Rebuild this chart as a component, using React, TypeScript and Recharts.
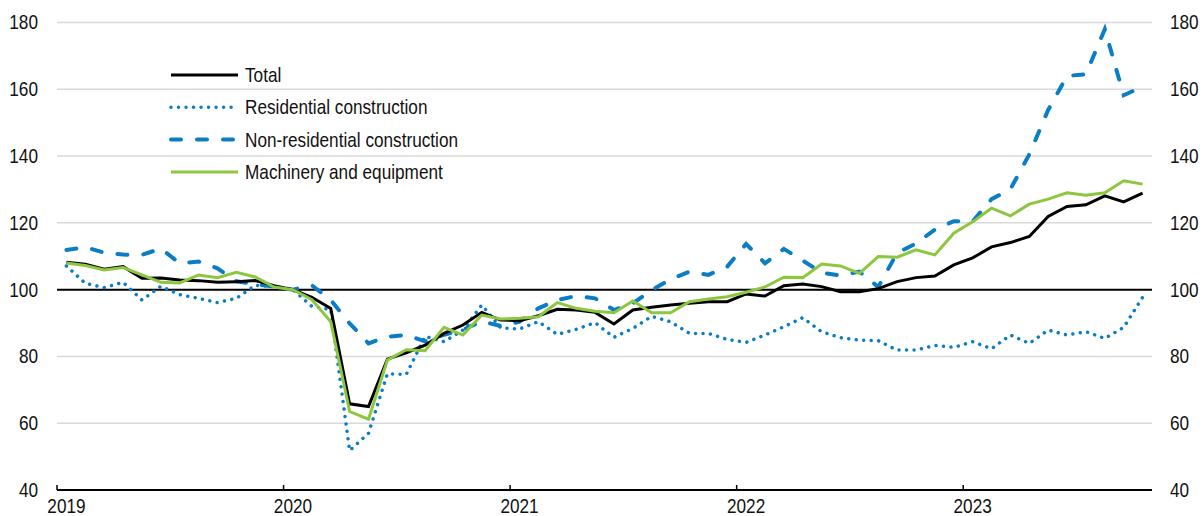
import { LineChart, Line, XAxis, YAxis, CartesianGrid, ReferenceLine, Legend } from "recharts";

// monthly index, Jan 2019 - Oct 2023
const years = ["2019", "2020", "2021", "2022", "2023"];
const yTicks = [40, 60, 80, 100, 120, 140, 160, 180];

const total = [
  108.2, 107.6, 106.1, 106.9, 103.4, 103.5, 102.9, 102.7, 102.2, 102.4, 102.7, 101.2,
  100.0, 97.7, 94.4, 65.8, 65.0, 79.2, 81.1, 83.4, 86.9, 89.4, 93.2, 90.9,
  90.7, 92.2, 94.1, 93.9, 93.2, 89.7, 93.9, 94.7, 95.4, 95.9, 96.4, 96.4,
  98.7, 98.1, 101.2, 101.7, 100.9, 99.4, 99.4, 100.3, 102.4, 103.6, 104.1, 107.4,
  109.5, 112.8, 114.1, 115.9, 121.9, 124.9, 125.4, 128.1, 126.3, 128.9,
];

const residential = [
  107.1, 101.9, 100.6, 102.2, 96.9, 101.0, 98.5, 97.4, 96.1, 97.4, 101.3, 100.9,
  100.0, 95.0, 94.0, 51.8, 57.0, 74.8, 74.6, 86.0, 84.4, 87.9, 95.4, 88.6,
  88.2, 90.4, 86.6, 88.1, 90.1, 85.7, 88.4, 92.0, 90.4, 86.9, 86.9, 85.1,
  84.2, 86.4, 88.9, 91.6, 87.4, 85.6, 84.9, 84.7, 81.9, 81.9, 83.3, 82.7,
  84.4, 82.3, 86.4, 83.9, 87.9, 86.4, 87.4, 85.4, 88.7, 97.7,
];

const nonResidential = [
  111.9, 112.7, 111.1, 110.5, 110.4, 112.3, 107.9, 108.4, 106.4, 102.5, 101.6, 100.9,
  100.0, 101.3, 96.9, 89.9, 83.9, 85.9, 86.4, 84.5, 86.5, 88.0, 90.5, 89.1,
  90.4, 94.4, 96.9, 98.1, 97.4, 93.9, 95.9, 99.9, 103.1, 105.4, 104.4, 106.9,
  113.7, 107.9, 112.2, 108.7, 105.1, 104.2, 105.4, 100.8, 111.0, 113.8, 118.0, 120.5,
  120.4, 127.1, 130.1, 140.5, 153.8, 164.0, 164.5, 178.0, 158.2, 160.8,
];

const machinery = [
  108.0, 107.2, 105.9, 106.6, 104.4, 102.2, 102.0, 104.4, 103.6, 105.2, 103.8, 100.8,
  100.0, 97.0, 90.4, 63.5, 61.2, 78.9, 82.0, 81.7, 88.7, 86.4, 92.4, 91.2,
  91.4, 91.9, 96.1, 94.4, 93.5, 93.1, 96.6, 93.1, 93.1, 96.4, 97.2, 97.9,
  99.2, 100.8, 103.7, 103.6, 107.7, 107.1, 104.9, 109.9, 109.7, 111.9, 110.4, 116.9,
  120.3, 124.4, 122.1, 125.6, 127.1, 129.0, 128.3, 129.0, 132.6, 131.6,
];

const BLUE = "#0B7DC4";
const GREEN = "#8DC63F";
const FONT = "'Liberation Sans', Arial, sans-serif";

const series = [
  { key: "total", name: "Total", color: "#000000", width: 3, dash: undefined as string | undefined },
  { key: "residential", name: "Residential construction", color: BLUE, width: 3.5, dash: "0.01 7.5" },
  { key: "nonResidential", name: "Non-residential construction", color: BLUE, width: 4, dash: "10 16" },
  { key: "machinery", name: "Machinery and equipment", color: GREEN, width: 3, dash: undefined },
];

const data = total.map((v, i) => ({
  t: i + 0.5,
  total: v,
  residential: residential[i],
  nonResidential: nonResidential[i],
  machinery: machinery[i],
}));

const W = 1203;
const H = 516;
const LEFT = 57;
const RIGHT = 51;
const N = total.length;
const halfMonth = (W - LEFT - RIGHT) / N / 2;

function YearTick(props: any) {
  const { x, y, payload } = props;
  const label = years[Math.round(payload.value / 12)];
  return (
    <g>
      <line x1={x} x2={x} y1={y - 5} y2={y} stroke="#000" strokeWidth={1.5} />
      <text
        transform={`translate(${x + halfMonth},${y + 23}) scale(0.86,1)`}
        textAnchor="middle"
        fontSize={20}
        fontFamily={FONT}
        fill="#111"
      >
        {label}
      </text>
    </g>
  );
}

function LeftTick(props: any) {
  const { x, y, payload } = props;
  return (
    <text
      transform={`translate(${x},${y}) scale(0.86,1)`}
      textAnchor="end"
      dominantBaseline="central"
      fontSize={20}
      fontFamily={FONT}
      fill="#111"
    >
      {payload.value}
    </text>
  );
}

function RightTick(props: any) {
  const { x, y, payload } = props;
  return (
    <text
      transform={`translate(${x},${y}) scale(0.86,1)`}
      textAnchor="start"
      dominantBaseline="central"
      fontSize={20}
      fontFamily={FONT}
      fill="#111"
    >
      {payload.value}
    </text>
  );
}

function LegendBox() {
  return (
    <svg width={320} height={135}>
      {series.map((s, i) => {
        const cy = 17 + i * 32.3;
        return (
          <g key={s.key}>
            <line
              x1={6}
              x2={73}
              y1={cy}
              y2={cy}
              stroke={s.color}
              strokeWidth={s.width}
              strokeDasharray={s.dash}
              strokeLinecap={s.dash ? "round" : "butt"}
            />
            <text
              transform={`translate(80,${cy}) scale(0.86,1)`}
              dominantBaseline="central"
              fontSize={20}
              fontFamily={FONT}
              fill="#111"
            >
              {s.name}
            </text>
          </g>
        );
      })}
    </svg>
  );
}

export default function App() {
  return (
    <div style={{ position: "absolute", left: 0, top: 0, width: W, height: H, background: "#fff" }}>
      <LineChart width={W} height={H} data={data} margin={{ top: 22.5, right: 0, bottom: 0, left: 0 }}>
        <CartesianGrid vertical={false} stroke="#d9d9d9" strokeWidth={1.5} yAxisId="left" />
        <XAxis
          dataKey="t"
          type="number"
          domain={[0, N]}
          ticks={years.map((_, i) => i * 12)}
          height={26}
          tickSize={0}
          tickMargin={0}
          tickLine={false}
          axisLine={{ stroke: "#000", strokeWidth: 2 }}
          tick={(p: any) => <YearTick {...p} />}
          interval={0}
        />
        <YAxis
          yAxisId="left"
          domain={[40, 180]}
          ticks={yTicks}
          width={LEFT}
          tickSize={0}
          tickMargin={19}
          axisLine={false}
          tickLine={false}
          tick={(p: any) => <LeftTick {...p} />}
          interval={0}
        />
        <YAxis
          yAxisId="right"
          orientation="right"
          domain={[40, 180]}
          ticks={yTicks}
          width={RIGHT}
          tickSize={0}
          tickMargin={18}
          axisLine={false}
          tickLine={false}
          tick={(p: any) => <RightTick {...p} />}
          interval={0}
        />
        <ReferenceLine yAxisId="left" y={100} stroke="#000" strokeWidth={2} />
        <Legend
          layout="vertical"
          align="center"
          verticalAlign="middle"
          content={() => <LegendBox />}
          wrapperStyle={{ left: 165, top: 58, width: 320, height: 135 }}
        />
        <Line yAxisId="left" dataKey="residential" stroke={BLUE} strokeWidth={3.5} strokeDasharray="0.01 7.5" strokeLinecap="round" dot={false} isAnimationActive={false} />
        <Line yAxisId="left" dataKey="nonResidential" stroke={BLUE} strokeWidth={4} strokeDasharray="10 16" strokeLinecap="round" dot={false} isAnimationActive={false} />
        <Line yAxisId="left" dataKey="total" stroke="#000" strokeWidth={3} dot={false} isAnimationActive={false} />
        <Line yAxisId="right" dataKey="machinery" stroke={GREEN} strokeWidth={3} dot={false} isAnimationActive={false} />
      </LineChart>
    </div>
  );
}
